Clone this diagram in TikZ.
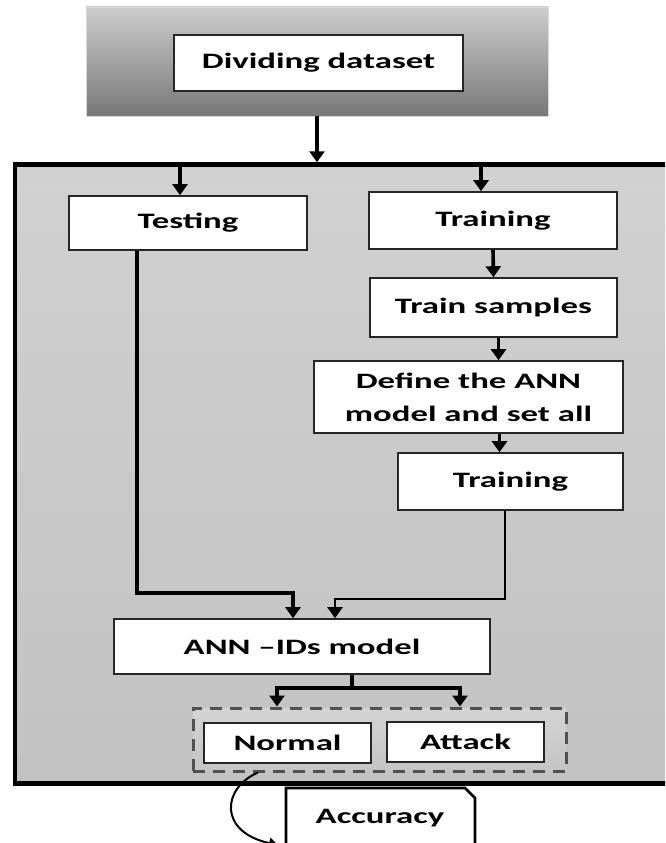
\documentclass[tikz,border=0pt]{standalone}
\usepackage{fontspec}
\setmainfont{Carlito}
\usetikzlibrary{arrows.meta}
\definecolor{dashgray}{RGB}{80,80,80}
\newcommand{\wtxt}[1]{\scalebox{1.58}[1]{#1}}

\begin{document}
\begin{tikzpicture}[x=1pt, y=-1pt,
  box/.style={draw=black!85, line width=1.6pt, fill=white, inner sep=0pt,
              font=\fontsize{22}{33}\selectfont\bfseries, align=center},
  arrow/.style={line width=3.6pt, -{Triangle[width=15pt,length=11pt]}},
  link/.style={line width=3.6pt}
]
\path[use as bounding box] (0,0) rectangle (665,843);
\clip (0,0) rectangle (665,843);

\node[draw=gray!30, line width=0.8pt, top color=black!20, bottom color=black!53,
      minimum width=462, minimum height=109, inner sep=0pt] (banner) at (317,61.5) {};
\node[box, minimum width=289, minimum height=56] (divide) at (318.5,63) {\wtxt{Dividing dataset}};

\node[draw, line width=4.5pt, top color=black!18, bottom color=black!24,
      minimum width=665, minimum height=619, inner sep=0pt] (frame) at (347.5,474) {};

\node[box, minimum width=238, minimum height=54] (testing) at (188,223)   {\wtxt{Testing}};
\node[box, minimum width=248, minimum height=57] (train)   at (493,220.5) {\wtxt{Training}};
\node[box, minimum width=247, minimum height=59] (samples) at (493.5,307.5) {\wtxt{Train samples}};
\node[box, minimum width=309, minimum height=72] (define)  at (468.5,397) {\wtxt{Define the ANN}\\\wtxt{model and set all}};
\node[box, minimum width=225, minimum height=57] (fit)     at (510.5,481.5) {\wtxt{Training}};
\node[box, minimum width=376, minimum height=55] (ann)     at (302,646.5) {\wtxt{ANN --IDs model}};

\node[draw=dashgray, line width=3pt, dash pattern=on 12pt off 8pt,
      top color=black!17, bottom color=black!23,
      minimum width=373, minimum height=63, inner sep=0pt] (outputs) at (379.5,739.5) {};
\node[box, minimum width=167, minimum height=40] (normal) at (287.5,743) {\wtxt{Normal}};
\node[box, minimum width=157, minimum height=40] (attack) at (465.5,742) {\wtxt{Attack}};

\filldraw[fill=white, line width=2.6pt] (286,860) -- (286,788) -- (465,788) -- (475,798) -- (475,860);
\node[font=\fontsize{22}{33}\selectfont\bfseries, inner sep=0pt] (acc) at (380,818) {\wtxt{Accuracy}};
\coordinate (acctip) at (278,845);

\draw[arrow] (banner.south) -- (banner.south |- frame.north);
\draw[arrow] ([xshift=-8]testing.north |- frame.north) -- ([xshift=-8]testing.north);
\draw[arrow] ([xshift=-12]train.north |- frame.north) -- ([xshift=-12]train.north);
\draw[arrow] (train.south) -- (samples.north);
\draw[arrow] ([xshift=5]samples.south) -- ([xshift=5]samples.south |- define.north);
\draw[arrow] ([xshift=-11]fit.north |- define.south) -- ([xshift=-11]fit.north);
\draw[arrow] ([xshift=-51]testing.south) -- ++(0,342) -| ([xshift=-9]ann.north);
\draw[arrow, line width=2.4pt] ([xshift=-5.5]fit.south) -- ++(0,88) -| ([xshift=33]ann.north);
\draw[link] ([xshift=50]ann.south) -- ++(0,13) coordinate (split);
\draw[arrow] (split) -| ([xshift=-10.5]normal.north |- outputs.north);
\draw[arrow] (split) -| ([xshift=-5.5]attack.north |- outputs.north);
\draw[line width=2pt, -{Triangle[width=11pt,length=9pt]}]
  ([xshift=-121.5]outputs.south) .. controls (222,788) and (218,832) .. (acctip);
\end{tikzpicture}
\end{document}
